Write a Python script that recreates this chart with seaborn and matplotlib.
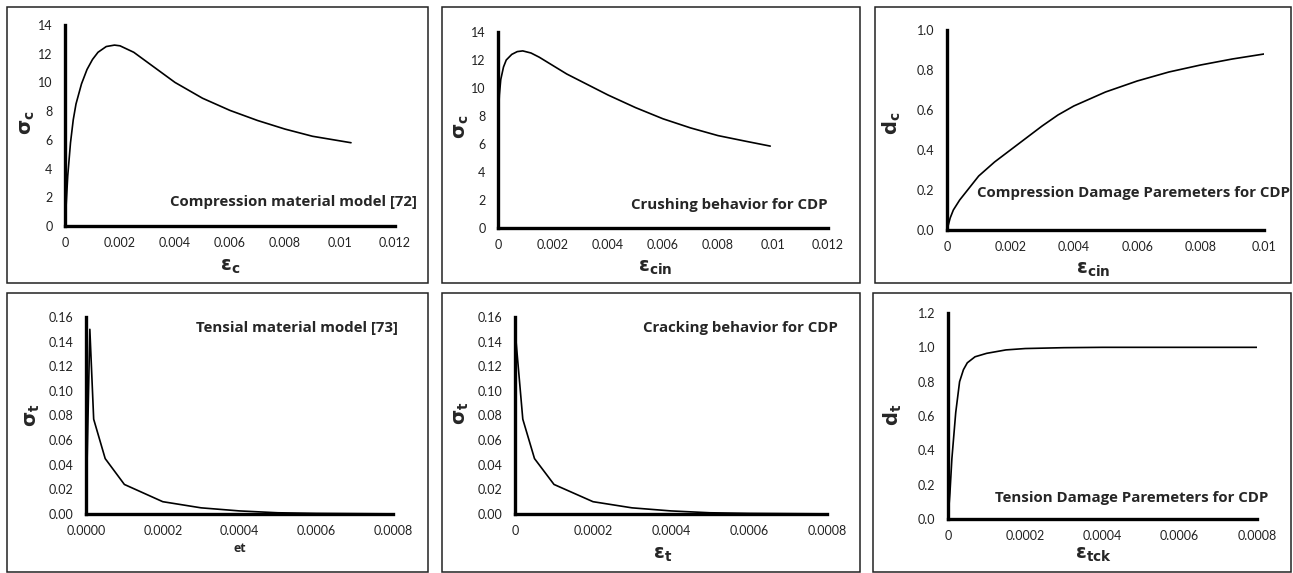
import pandas as pd
import matplotlib.pyplot as plt
import seaborn as sns
from matplotlib.patches import Rectangle

# Compression material model [72]
comp_strain = [0, 0.0001, 0.0002, 0.0003, 0.0004, 0.0006, 0.0008, 0.001, 0.0012, 0.0015,
               0.0018, 0.002, 0.0025, 0.003, 0.0035, 0.004, 0.005, 0.006, 0.007, 0.008, 0.009, 0.0104]
comp_stress = [0, 3.5, 5.8, 7.4, 8.5, 9.9, 10.9, 11.6, 12.1, 12.5,
               12.6, 12.55, 12.1, 11.4, 10.7, 10.0, 8.9, 8.05, 7.35, 6.75, 6.25, 5.8]

# Crushing behavior for CDP
crush_strain = [0, 0.00005, 0.0001, 0.0002, 0.0003, 0.0005, 0.0007, 0.0009, 0.0012, 0.0015,
                0.002, 0.0025, 0.003, 0.0035, 0.004, 0.005, 0.006, 0.007, 0.008, 0.009, 0.0099]
crush_stress = [7.5, 9.5, 10.6, 11.5, 12.0, 12.4, 12.6, 12.65, 12.5, 12.2,
                11.6, 11.0, 10.5, 10.0, 9.5, 8.6, 7.8, 7.15, 6.6, 6.2, 5.85]

# Compression damage
dc_strain = [0, 0.0001, 0.0002, 0.0004, 0.0007, 0.001, 0.0015, 0.002, 0.0025, 0.003,
             0.0035, 0.004, 0.005, 0.006, 0.007, 0.008, 0.009, 0.01]
dc_value = [0, 0.06, 0.10, 0.15, 0.21, 0.27, 0.34, 0.40, 0.46, 0.52,
            0.575, 0.62, 0.69, 0.745, 0.79, 0.825, 0.855, 0.88]

# Tensial material model [73]
tens_strain = [0, 0.00001, 0.00002, 0.00005, 0.0001, 0.0002, 0.0003, 0.0004, 0.0005, 0.0006, 0.0008]
tens_stress = [0, 0.15, 0.077, 0.045, 0.024, 0.010, 0.005, 0.0025, 0.001, 0.0005, 0.0001]

# Cracking behavior for CDP
crack_strain = [0, 0.00002, 0.00005, 0.0001, 0.0002, 0.0003, 0.0004, 0.0005, 0.0006, 0.0008]
crack_stress = [0.15, 0.077, 0.045, 0.024, 0.010, 0.005, 0.0025, 0.001, 0.0005, 0.0001]

# Tension damage
dt_strain = [0, 0.000005, 0.00001, 0.00002, 0.00003, 0.00004, 0.00005, 0.00007, 0.0001,
             0.00015, 0.0002, 0.0003, 0.0004, 0.0006, 0.0008]
dt_value = [0, 0.15, 0.35, 0.62, 0.80, 0.87, 0.91, 0.945, 0.965,
            0.985, 0.993, 0.998, 1.0, 1.0, 1.0]

# tick values / labels
x_ticks_c = [0, 0.002, 0.004, 0.006, 0.008, 0.01, 0.012]
x_labels_c = ['0', '0.002', '0.004', '0.006', '0.008', '0.01', '0.012']
x_ticks_dc = [0, 0.002, 0.004, 0.006, 0.008, 0.01]
x_labels_dc = ['0', '0.002', '0.004', '0.006', '0.008', '0.01']
x_ticks_t = [0, 0.0002, 0.0004, 0.0006, 0.0008]
x_labels_t4 = ['0.0000', '0.0002', '0.0004', '0.0006', '0.0008']
x_labels_t = ['0', '0.0002', '0.0004', '0.0006', '0.0008']
y_ticks_c = [0, 2, 4, 6, 8, 10, 12, 14]
y_labels_c = ['0', '2', '4', '6', '8', '10', '12', '14']
y_ticks_dc = [0, 0.2, 0.4, 0.6, 0.8, 1.0]
y_labels_dc = ['0.0', '0.2', '0.4', '0.6', '0.8', '1.0']
y_ticks_t = [0, 0.02, 0.04, 0.06, 0.08, 0.10, 0.12, 0.14, 0.16]
y_labels_t = ['0.00', '0.02', '0.04', '0.06', '0.08', '0.10', '0.12', '0.14', '0.16']
y_ticks_dt = [0, 0.2, 0.4, 0.6, 0.8, 1.0, 1.2]
y_labels_dt = ['0.0', '0.2', '0.4', '0.6', '0.8', '1.0', '1.2']

sns.set_style('white')
plt.rcParams['font.family'] = ['Lato', 'DejaVu Sans']
plt.rcParams['mathtext.fontset'] = 'dejavusans'

W, H = 1293, 573
fig = plt.figure(figsize=(W / 100, H / 100), dpi=100)


def px_axes(left, top, right, bottom):
    return fig.add_axes([left / W, 1 - bottom / H, (right - left) / W, (bottom - top) / H])


def to_ax(ax, px, py):
    # pixel position -> axes fraction
    x0, y0, w, h = ax.get_position().bounds
    return (px / W - x0) / w, ((1 - py / H) - y0) / h


panels = [
    # strain, value, axes box, xticks, xlabels, yticks, ylabels, xlabel, ylabel, xlab pos, ylab pos
    (comp_strain, comp_stress, (65, 25, 395, 226), x_ticks_c, x_labels_c, y_ticks_c, y_labels_c,
     r'$\mathbf{\epsilon_c}$', r'$\mathbf{\sigma_c}$', (230, 267), (28, 123)),
    (crush_strain, crush_stress, (498, 32, 828, 228), x_ticks_c, x_labels_c, y_ticks_c, y_labels_c,
     r'$\mathbf{\epsilon_{cin}}$', r'$\mathbf{\sigma_c}$', (655, 268), (462, 127)),
    (dc_strain, dc_value, (947, 30, 1264, 230), x_ticks_dc, x_labels_dc, y_ticks_dc, y_labels_dc,
     r'$\mathbf{\epsilon_{cin}}$', r'$\mathbf{d_c}$', (1093, 270), (892, 123)),
    (tens_strain, tens_stress, (86, 317, 393, 514), x_ticks_t, x_labels_t4, y_ticks_t, y_labels_t,
     'et', r'$\mathbf{\sigma_t}$', (240, 548), (33, 415)),
    (crack_strain, crack_stress, (515, 317, 827, 514), x_ticks_t, x_labels_t, y_ticks_t, y_labels_t,
     r'$\mathbf{\epsilon_t}$', r'$\mathbf{\sigma_t}$', (663, 555), (462, 413)),
    (dt_strain, dt_value, (948, 313, 1257, 519), x_ticks_t, x_labels_t, y_ticks_dt, y_labels_dt,
     r'$\mathbf{\epsilon_{tck}}$', r'$\mathbf{d_t}$', (1093, 555), (893, 415)),
]

for strain, value, box, xt, xl, yt, yl, xlab, ylab, xpos, ypos in panels:
    ax = px_axes(*box)
    df = pd.DataFrame({'strain': strain, 'value': value})
    sns.lineplot(data=df, x='strain', y='value', ax=ax, color='black', linewidth=1.2, estimator=None)
    ax.set_xlim(xt[0], xt[-1])
    ax.set_ylim(yt[0], yt[-1])
    ax.set_xticks(xt)
    ax.set_xticklabels(xl)
    ax.set_yticks(yt)
    ax.set_yticklabels(yl)
    ax.tick_params(length=0, labelsize=9, colors='#222222')
    ax.tick_params(axis='x', pad=8)
    ax.tick_params(axis='y', pad=9)
    for s in ['top', 'right']:
        ax.spines[s].set_visible(False)
    for s in ['left', 'bottom']:
        ax.spines[s].set_linewidth(2.4)
        ax.spines[s].set_color('black')
    if xlab == 'et':
        ax.set_xlabel(xlab, fontsize=9, fontweight='bold', family='Open Sans')
    else:
        ax.set_xlabel(xlab, fontsize=14)
    ax.set_ylabel(ylab, fontsize=14)
    ax.xaxis.set_label_coords(*to_ax(ax, *xpos))
    ax.yaxis.set_label_coords(*to_ax(ax, *ypos))
    ax.xaxis.label.set_va('center')
    ax.yaxis.label.set_va('center')

# panel titles, right edge / center y in pixels
notes = [
    ('Compression material model [72]', 417, 202),
    ('Crushing behavior for CDP', 828, 205),
    ('Compression Damage Paremeters for CDP', 1290, 193),
    ('Tensial material model [73]', 398, 328),
    ('Cracking behavior for CDP', 838, 328),
    ('Tension Damage Paremeters for CDP', 1268, 498),
]
for txt, px, py in notes:
    fig.text(px / W, 1 - py / H, txt, ha='right', va='center', fontsize=10.8,
             fontweight='bold', family='Open Sans')

# chart borders
borders = [(7, 7, 428, 283), (442, 7, 860, 283), (875, 7, 1291, 283),
           (7, 293, 428, 572), (442, 293, 860, 572), (873, 293, 1291, 572)]
for l, t, r, b in borders:
    fig.patches.append(Rectangle((l / W, 1 - b / H), (r - l) / W, (b - t) / H,
                                 transform=fig.transFigure, fill=False,
                                 edgecolor='#222222', linewidth=1.1))

plt.savefig('out.png', dpi=100)
